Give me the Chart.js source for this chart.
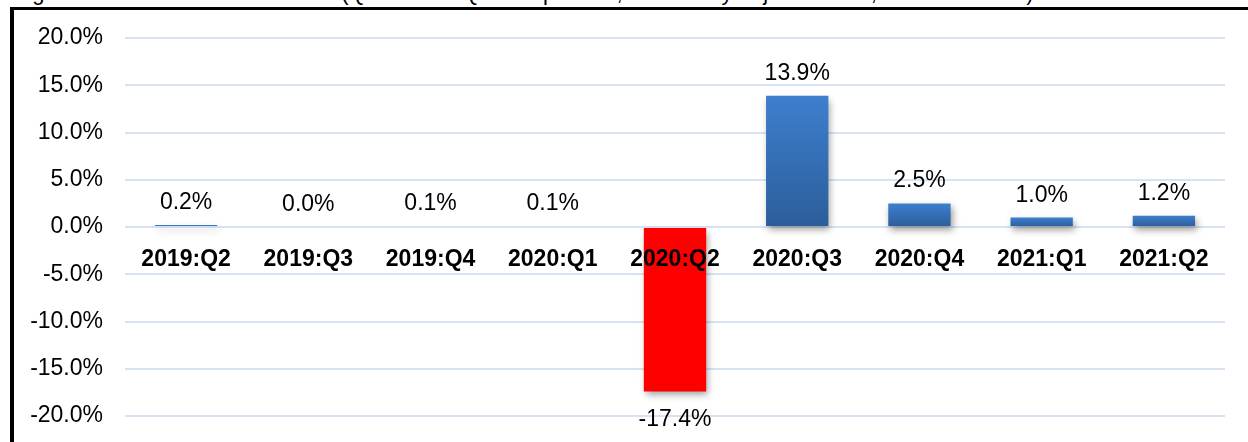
<!DOCTYPE html>
<html>
<head>
<meta charset="utf-8">
<script src="https://cdn.jsdelivr.net/npm/chart.js@4.4.0/dist/chart.umd.min.js"></script>
<style>
html,body{margin:0;padding:0;background:#fff;overflow:hidden}
#wrap{position:relative;width:1248px;height:442px;overflow:hidden;background:#fff}
#title{position:absolute;left:14px;top:-18px;font:22px "Liberation Sans",Arial,sans-serif;line-height:22px;white-space:nowrap;color:#000}
#frame{position:absolute;left:10px;top:7px;width:1300px;height:500px;border-left:4px solid #000;border-top:3px solid #000}
canvas{position:absolute;left:0;top:0}
</style>
</head>
<body>
<div id="wrap">
  <div id="title">Figure 1: Real GDP Growth Rate (Quarter-on-Quarter percent, seasonally adjusted data, not annualized)</div>
  <div id="frame"></div>
  <canvas id="c" width="1248" height="442"></canvas>
</div>
<script>
const categories = ['2019:Q2','2019:Q3','2019:Q4','2020:Q1','2020:Q2','2020:Q3','2020:Q4','2021:Q1','2021:Q2'];
const growthValues = [0.2, 0.0, 0.1, 0.1, -17.4, 13.9, 2.5, 1.0, 1.2];
const yTickValues = [-20, -15, -10, -5, 0, 5, 10, 15, 20];

const FONT = '"Liberation Sans", Arial, sans-serif';

const barShadow = {
  id: 'barShadow',
  beforeDatasetDraw(chart) {
    const ctx = chart.ctx;
    ctx.save();
    ctx.shadowColor = 'rgba(0,0,0,0.38)';
    ctx.shadowBlur = 7;
    ctx.shadowOffsetX = 2;
    ctx.shadowOffsetY = 4;
  },
  afterDatasetDraw(chart) {
    chart.ctx.restore();
  }
};

const valueLabels = {
  id: 'valueLabels',
  afterDatasetsDraw(chart) {
    const ctx = chart.ctx;
    const meta = chart.getDatasetMeta(0);
    ctx.save();
    ctx.font = '23px ' + FONT;
    ctx.fillStyle = '#000';
    ctx.textAlign = 'center';
    ctx.textBaseline = 'alphabetic';
    meta.data.forEach((bar, i) => {
      const v = growthValues[i];
      const txt = v.toFixed(1) + '%';
      if (v >= 0) ctx.fillText(txt, bar.x, bar.y - 16);
      else ctx.fillText(txt, bar.x, bar.y + 35);
    });
    ctx.restore();
  }
};

new Chart(document.getElementById('c'), {
  type: 'bar',
  data: {
    labels: categories,
    datasets: [{
      data: growthValues,
      barPercentage: 0.51,
      categoryPercentage: 1.0,
      borderWidth: 0,
      backgroundColor: (c) => {
        if (c.type !== 'data') return '#3a7bc8';
        const v = growthValues[c.dataIndex];
        if (v < 0) return '#ff0000';
        const chart = c.chart;
        const ys = chart.scales.y;
        if (!chart.chartArea || !ys) return '#3a7bc8';
        const top = ys.getPixelForValue(v);
        const base = ys.getPixelForValue(0);
        const g = chart.ctx.createLinearGradient(0, top, 0, Math.max(base, top + 1));
        g.addColorStop(0, '#3d7fce');
        g.addColorStop(1, '#2c5d9a');
        return g;
      }
    }]
  },
  options: {
    responsive: false,
    animation: false,
    devicePixelRatio: 1,
    layout: { padding: { left: 0, right: 23, top: 38, bottom: 26 } },
    plugins: { legend: { display: false }, tooltip: { enabled: false }, title: { display: false } },
    scales: {
      x: {
        type: 'category',
        position: { y: 0 },
        afterFit: (s) => { s.height = 0; },
        grid: { display: false },
        border: { display: false },
        ticks: {
          z: 1,
          color: '#000',
          font: { family: FONT, size: 23, weight: 'bold' },
          padding: 11,
          maxRotation: 0,
          autoSkip: false
        }
      },
      y: {
        min: -20,
        max: 20,
        afterFit: (s) => { s.width = 125; s.paddingTop = 0; s.paddingBottom = 0; },
        afterBuildTicks: (s) => { s.ticks = yTickValues.map(v => ({ value: v })); },
        grid: { color: '#d7e3f2', lineWidth: 2, drawTicks: false },
        border: { display: false },
        ticks: {
          color: '#000',
          font: { family: FONT, size: 23 },
          padding: 22,
          callback: (v) => Number(v).toFixed(1) + '%'
        }
      }
    }
  },
  plugins: [barShadow, valueLabels]
});
</script>
</body>
</html>
